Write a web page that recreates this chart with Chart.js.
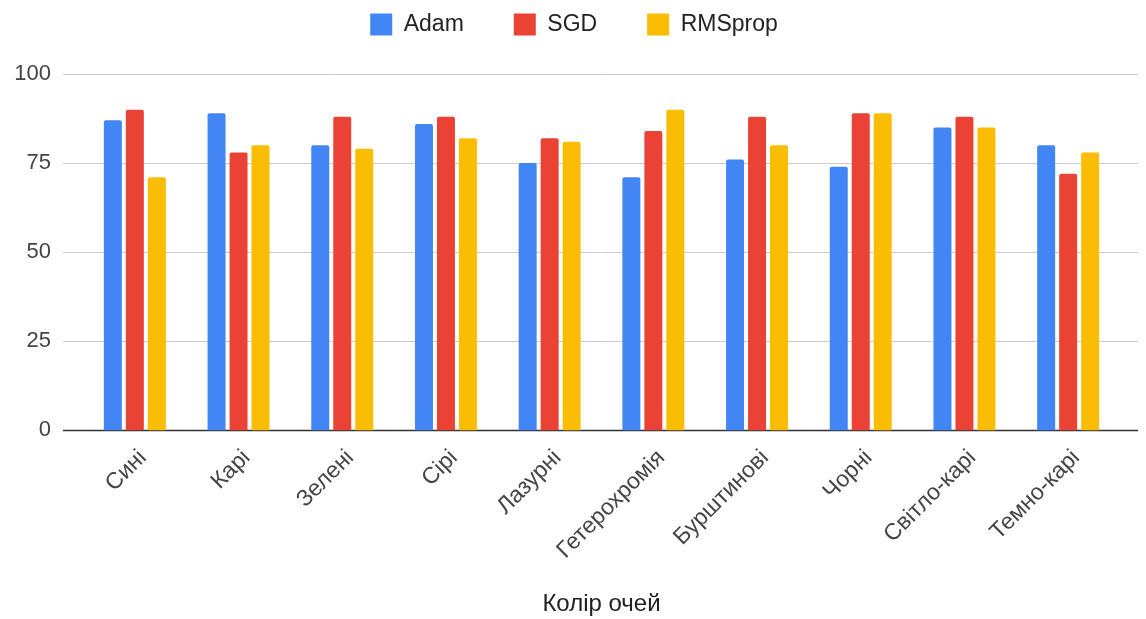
<!DOCTYPE html>
<html>
<head>
<meta charset="utf-8">
<script src="https://cdn.jsdelivr.net/npm/chart.js@4/dist/chart.umd.min.js"></script>
<style>
  html, body { margin: 0; padding: 0; background: #fff; }
  #wrap { width: 1146px; height: 619px; position: relative; }
</style>
</head>
<body>
<div id="wrap"><canvas id="c" width="1146" height="619"></canvas></div>
<script>
// Eye colour categories
const categories = ['Сині', 'Карі', 'Зелені', 'Сірі', 'Лазурні', 'Гетерохромія', 'Бурштинові', 'Чорні', 'Світло-карі', 'Темно-карі'];

// Accuracy per optimizer
const adam    = [87, 89, 80, 86, 75, 71, 76, 74, 85, 80];
const sgd     = [90, 78, 88, 88, 82, 84, 88, 89, 88, 72];
const rmsprop = [71, 80, 79, 82, 81, 90, 80, 89, 85, 78];

// Y axis ticks
const yTicks = [0, 25, 50, 75, 100];

const FONT = '"Liberation Sans", Arial, sans-serif';

// Horizontal gridlines that run a little past the plot area on both sides
const wideGrid = {
  id: 'wideGrid',
  beforeDatasetsDraw(chart) {
    const { ctx, scales: { y } } = chart;
    const x0 = 63, x1 = 1138;
    ctx.save();
    yTicks.forEach(v => {
      const py = Math.round(y.getPixelForValue(v)) + 0.5;
      ctx.beginPath();
      if (v === 0) {
        ctx.strokeStyle = '#333333';
        ctx.lineWidth = 1.5;
      } else {
        ctx.strokeStyle = '#cccccc';
        ctx.lineWidth = 1;
      }
      ctx.moveTo(x0, py);
      ctx.lineTo(x1, py);
      ctx.stroke();
    });
    ctx.restore();
  }
};

// Extra room under the legend row, and a small nudge of the legend to the right
const legendGap = {
  id: 'legendGap',
  beforeInit(chart) {
    const fit = chart.legend.fit;
    chart.legend.fit = function () {
      fit.call(this);
      this.height += 28;
    };
  },
  beforeDraw(chart) {
    const lg = chart.legend;
    if (!lg._shifted) {
      lg.left += 14;
      lg.right += 14;
      lg._shifted = true;
    }
  }
};

const barStyle = { borderRadius: 2, borderSkipped: 'start', categoryPercentage: 0.636, barPercentage: 0.818 };

new Chart(document.getElementById('c'), {
  type: 'bar',
  data: {
    labels: categories,
    datasets: [
      Object.assign({ label: 'Adam',    data: adam,    backgroundColor: '#4285F4' }, barStyle),
      Object.assign({ label: 'SGD',     data: sgd,     backgroundColor: '#EA4335' }, barStyle),
      Object.assign({ label: 'RMSprop', data: rmsprop, backgroundColor: '#FBBC04' }, barStyle)
    ]
  },
  plugins: [wideGrid, legendGap],
  options: {
    responsive: false,
    animation: false,
    layout: { padding: { left: 0, right: 26, top: -37, bottom: 0 } },
    plugins: {
      legend: {
        position: 'top',
        labels: {
          boxWidth: 22,
          boxHeight: 22,
          padding: 50,
          color: '#222222',
          font: { family: FONT, size: 23 }
        }
      },
      tooltip: { enabled: false }
    },
    scales: {
      x: {
        grid: { display: false, drawTicks: false },
        border: { display: false },
        ticks: {
          minRotation: 45,
          maxRotation: 45,
          padding: 14,
          labelOffset: 8,
          color: '#444444',
          font: { family: FONT, size: 23 }
        },
        title: {
          display: true,
          text: 'Колір очей',
          color: '#222222',
          font: { family: FONT, size: 24 },
          padding: { top: 12, bottom: 0 }
        }
      },
      y: {
        min: 0,
        max: 100,
        afterFit(scale) { scale.width = 83; },
        afterBuildTicks(scale) { scale.ticks = yTicks.map(v => ({ value: v })); },
        grid: { display: false, drawTicks: false },
        border: { display: false },
        ticks: {
          padding: 32,
          color: '#444444',
          font: { family: FONT, size: 22 }
        }
      }
    }
  }
});
</script>
</body>
</html>
